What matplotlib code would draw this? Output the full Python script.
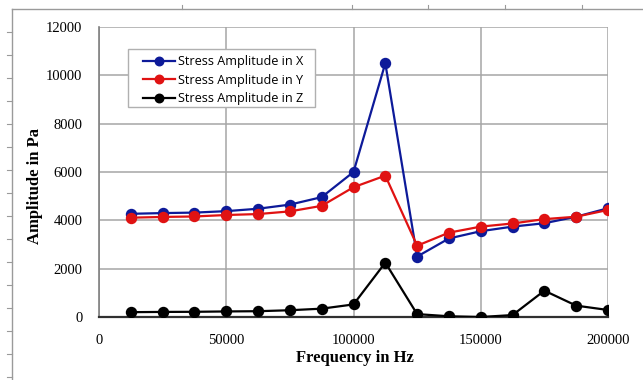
import numpy as np
import matplotlib.pyplot as plt
from matplotlib.lines import Line2D
from matplotlib.patches import Rectangle

# datos
frecuencia = [12500, 25000, 37500, 50000, 62500, 75000, 87500, 100000,
              112500, 125000, 137500, 150000, 162500, 175000, 187500, 200000]
amp_x = [4270, 4300, 4320, 4380, 4480, 4650, 4960, 6000,
         10500, 2500, 3250, 3550, 3740, 3880, 4150, 4500]
amp_y = [4110, 4140, 4160, 4220, 4260, 4370, 4600, 5370,
         5850, 2950, 3490, 3740, 3870, 4050, 4150, 4430]
amp_z = [200, 210, 215, 230, 240, 280, 345, 520,
         2250, 120, 30, 0, 80, 1090, 470, 290]

etiquetas = ['Stress Amplitude in X', 'Stress Amplitude in Y', 'Stress Amplitude in Z']
colores = ['#0d1a99', '#e01212', '#000000']

W, H = 643, 380
fig = plt.figure(figsize=(W / 100, H / 100), dpi=100)
ax = fig.add_axes([99 / W, 1 - 317 / H, (608 - 99) / W, (317 - 27) / H])

for serie, nombre, c in zip([amp_x, amp_y, amp_z], etiquetas, colores):
    ax.plot(frecuencia, serie, color=c, lw=1.6, marker='o', ms=7.2,
            label=nombre, zorder=3)

ax.set_xlim(0, 200000)
ax.set_ylim(0, 12000)
ax.set_xticks(np.arange(0, 200001, 50000))
ax.set_yticks(np.arange(0, 12001, 2000))
ax.grid(True, color='#a6a6a6', lw=1.1)
ax.set_axisbelow(True)
ax.tick_params(length=0, labelsize=10.5, pad=12)
for lab in ax.get_xticklabels() + ax.get_yticklabels():
    lab.set_family('Liberation Serif')
for s in ['top', 'right']:
    ax.spines[s].set_visible(False)
ax.spines['left'].set_color('#808080')
ax.spines['left'].set_linewidth(1.2)
ax.spines['bottom'].set_color('#303030')
ax.spines['bottom'].set_linewidth(1.6)

# caja de la leyenda
caja = Rectangle((128 / W, 1 - 107 / H), (315 - 128) / W, (107 - 49) / H,
                 transform=fig.transFigure, facecolor='white', edgecolor='#b0b0b0',
                 lw=1.0, zorder=4)
ax.add_patch(caja)
leg = ax.legend(loc='upper left', bbox_to_anchor=(143 / W, 1 - 55 / H),
                bbox_transform=fig.transFigure,
                prop={'family': 'Open Sans', 'size': 9.1}, frameon=False,
                borderpad=0, labelspacing=0.44, handlelength=2.55, handletextpad=0.24,
                borderaxespad=0, markerscale=0.85)
leg.set_zorder(5)

# titulos de ejes
fig.text(355 / W, 1 - 358 / H, 'Frequency in Hz', ha='center', va='center',
         family='Liberation Serif', weight='bold', fontsize=12)
fig.text(35 / W, 1 - 186 / H, 'Amplitude in Pa', ha='center', va='center',
         rotation=90, family='Liberation Serif', weight='bold', fontsize=12)

# marco exterior con marcas de regla
gris = '#9a9a9a'
fig.add_artist(Line2D([12 / W, 1], [1 - 9 / H, 1 - 9 / H], color=gris, lw=1.0))
fig.add_artist(Line2D([12 / W, 12 / W], [0, 1 - 9 / H], color=gris, lw=1.0))
for yp in range(32, 380, 23):
    fig.add_artist(Line2D([7 / W, 12 / W], [1 - yp / H, 1 - yp / H], color=gris, lw=0.8))
for xp in [182, 352, 428, 505, 582]:
    fig.add_artist(Line2D([xp / W, xp / W], [1 - 9 / H, 1 - 5 / H], color=gris, lw=0.8))

plt.savefig('out.png', dpi=100)
